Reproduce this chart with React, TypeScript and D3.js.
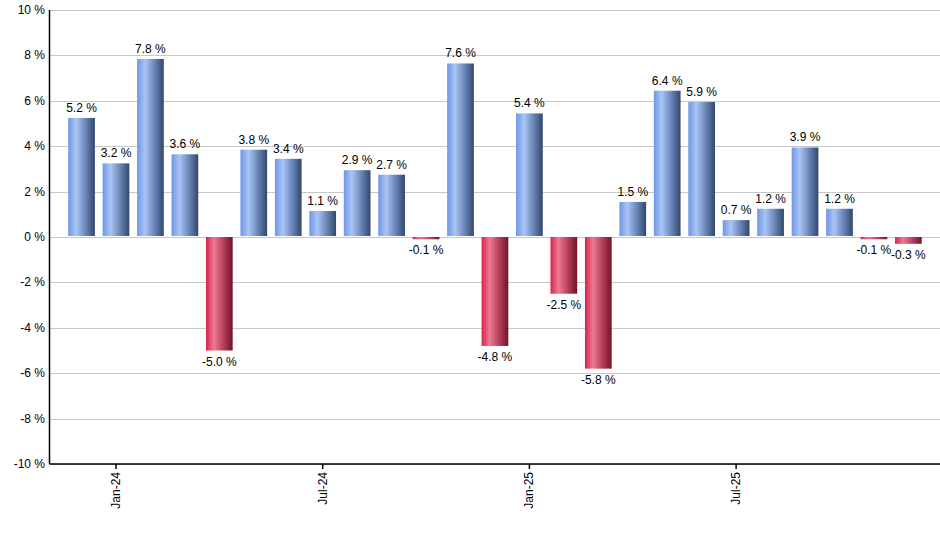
import { useEffect, useRef } from "react";
import * as d3 from "d3";

// monthly returns, Dec-23 .. Dec-25
const months = [
  "Dec-23", "Jan-24", "Feb-24", "Mar-24", "Apr-24", "May-24", "Jun-24",
  "Jul-24", "Aug-24", "Sep-24", "Oct-24", "Nov-24", "Dec-24", "Jan-25",
  "Feb-25", "Mar-25", "Apr-25", "May-25", "Jun-25", "Jul-25", "Aug-25",
  "Sep-25", "Oct-25", "Nov-25", "Dec-25",
];
const values = [
  5.2, 3.2, 7.8, 3.6, -5.0, 3.8, 3.4, 1.1, 2.9, 2.7, -0.1, 7.6, -4.8, 5.4,
  -2.5, -5.8, 1.5, 6.4, 5.9, 0.7, 1.2, 3.9, 1.2, -0.1, -0.3,
];
const yTicks = [-10, -8, -6, -4, -2, 0, 2, 4, 6, 8, 10];
const xTickLabels = ["Jan-24", "Jul-24", "Jan-25", "Jul-25"];

const App = () => {
  const svgRef = useRef<SVGSVGElement | null>(null);

  useEffect(() => {
    document.body.style.margin = "0";
    const width = 940;
    const height = 550;
    const left = 49.5;
    const top = 10;
    const bottom = 464;

    const svg = d3.select(svgRef.current);
    svg.selectAll("*").remove();
    svg.attr("width", width).attr("height", height);

    const defs = svg.append("defs");
    const grad = (id: string, stops: [number, string][]) => {
      const g = defs
        .append("linearGradient")
        .attr("id", id)
        .attr("x1", "0%")
        .attr("x2", "100%")
        .attr("y1", "0%")
        .attr("y2", "0%");
      stops.forEach(([o, c]) =>
        g.append("stop").attr("offset", `${o}%`).attr("stop-color", c)
      );
    };
    grad("gBlue", [
      [0, "#6f96e6"],
      [30, "#a9c5f6"],
      [65, "#6a86b8"],
      [100, "#33476b"],
    ]);
    grad("gRed", [
      [0, "#d8224c"],
      [30, "#ec7a93"],
      [65, "#b8405c"],
      [100, "#6c1628"],
    ]);

    const y = d3.scaleLinear().domain([-10, 10]).range([bottom, top]);
    const x = d3
      .scaleBand()
      .domain(months)
      .range([64.3, 925.6])
      .paddingInner(0.225)
      .paddingOuter(0.1125);

    const font = "'Liberation Sans', Arial, sans-serif";

    // gridlines
    svg
      .append("g")
      .selectAll("line")
      .data(yTicks)
      .enter()
      .append("line")
      .attr("x1", left)
      .attr("x2", width)
      .attr("y1", (d) => Math.round(y(d)) + 0.5)
      .attr("y2", (d) => Math.round(y(d)) + 0.5)
      .attr("stroke", "#c8c8c8")
      .attr("stroke-width", 1);

    // y labels
    svg
      .append("g")
      .selectAll("text")
      .data(yTicks)
      .enter()
      .append("text")
      .attr("x", 45)
      .attr("y", (d) => y(d) + 4)
      .attr("text-anchor", "end")
      .attr("font-family", font)
      .attr("font-size", 12)
      .attr("fill", "#000")
      .text((d) => `${d} %`);

    // bars (zero line sits one px above the gridline)
    const data = months.map((m, i) => ({ m, v: values[i] }));
    const zero = y(0) - 1;
    svg
      .append("g")
      .selectAll("rect")
      .data(data)
      .enter()
      .append("rect")
      .attr("x", (d) => x(d.m) as number)
      .attr("width", x.bandwidth())
      .attr("y", (d) => (d.v >= 0 ? y(d.v) - 1 : zero + 1))
      .attr("height", (d) => Math.max(1.5, Math.abs(y(d.v) - y(0))))
      .attr("fill", (d) => (d.v >= 0 ? "url(#gBlue)" : "url(#gRed)"));

    // value labels
    svg
      .append("g")
      .selectAll("text")
      .data(data)
      .enter()
      .append("text")
      .attr("x", (d) => (x(d.m) as number) + x.bandwidth() / 2)
      .attr("y", (d) => (d.v >= 0 ? y(d.v) - 7 : y(d.v) + 15))
      .attr("text-anchor", "middle")
      .attr("font-family", font)
      .attr("font-size", 12)
      .attr("fill", "#000")
      .text((d) => `${d.v.toFixed(1)} %`);

    // axes lines
    svg
      .append("line")
      .attr("x1", left)
      .attr("x2", left)
      .attr("y1", top)
      .attr("y2", bottom)
      .attr("stroke", "#000")
      .attr("stroke-width", 1.5);
    svg
      .append("line")
      .attr("x1", left)
      .attr("x2", width)
      .attr("y1", bottom)
      .attr("y2", bottom)
      .attr("stroke", "#000")
      .attr("stroke-width", 1.5);

    // x ticks + labels
    const xt = svg
      .append("g")
      .selectAll("g")
      .data(xTickLabels)
      .enter()
      .append("g")
      .attr(
        "transform",
        (d) => `translate(${(x(d) as number) + x.bandwidth() / 2},${bottom})`
      );
    xt.append("line")
      .attr("y1", 0)
      .attr("y2", 5)
      .attr("stroke", "#000")
      .attr("stroke-width", 1.5);
    xt.append("text")
      .attr("transform", "rotate(-90)")
      .attr("x", -8)
      .attr("y", 4)
      .attr("text-anchor", "end")
      .attr("font-family", font)
      .attr("font-size", 12)
      .attr("fill", "#000")
      .text((d) => d);
  }, []);

  return <svg ref={svgRef} style={{ display: "block" }} />;
};

export default App;
